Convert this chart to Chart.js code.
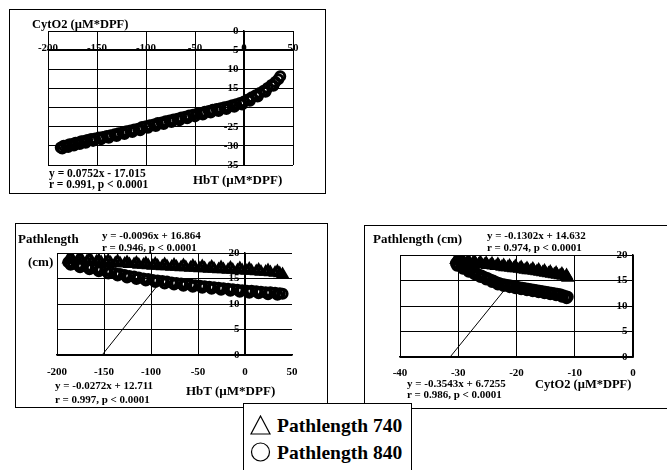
<!DOCTYPE html>
<html>
<head>
<meta charset="utf-8">
<script src="https://cdn.jsdelivr.net/npm/chart.js@4"></script>
<style>
  body { margin: 0; width: 667px; height: 470px; background: #fff; position: relative; overflow: hidden; }
  .box { position: absolute; border: 1px solid #000; box-sizing: border-box; }
  canvas { position: absolute; }
  .t { position: absolute; font-family: "Liberation Serif", "Times New Roman", serif; font-weight: bold;
       color: #000; line-height: 14px; white-space: nowrap; z-index: 5; }
  .legend { position: absolute; left: 243px; top: 403px; width: 169px; height: 80px; background: #fff;
            border: 1px solid #000; box-sizing: border-box; z-index: 10; }
  .legend .row { position: absolute; left: 6px; font-family: "Liberation Serif", "Times New Roman", serif;
                 font-weight: bold; font-size: 19.5px; line-height: 22px; white-space: nowrap; }
  .legend svg { vertical-align: -3px; margin-right: 6px; }
</style>
</head>
<body>

<div class="box" style="left:9px;top:9px;width:317px;height:185px"></div>
<div class="box" style="left:15px;top:223px;width:313px;height:185px"></div>
<div class="box" style="left:364px;top:225px;width:310px;height:184px"></div>

<canvas id="cA" width="316" height="184" style="left:9px;top:9px"></canvas>
<canvas id="cB" width="312" height="184" style="left:15px;top:223px"></canvas>
<canvas id="cC" width="303" height="183" style="left:364px;top:225px"></canvas>

<div class="t" style="left:32px;top:17px;font-size:12.5px">CytO2 (µM*DPF)</div>
<div class="t" style="left:49px;top:166px;font-size:11.5px">y = 0.0752x - 17.015</div>
<div class="t" style="left:49px;top:177px;font-size:11.5px">r = 0.991, p &lt; 0.0001</div>
<div class="t" style="left:193px;top:173px;font-size:13px">HbT (µM*DPF)</div>

<div class="t" style="left:18px;top:232px;font-size:13px">Pathlength</div>
<div class="t" style="left:28px;top:255px;font-size:13px">(cm)</div>
<div class="t" style="left:102px;top:228px;font-size:11px">y = -0.0096x + 16.864</div>
<div class="t" style="left:102px;top:240px;font-size:11px">r = 0.946, p &lt; 0.0001</div>
<div class="t" style="left:55px;top:378px;font-size:11px">y = -0.0272x + 12.711</div>
<div class="t" style="left:55px;top:392px;font-size:11px">r = 0.997, p &lt; 0.0001</div>
<div class="t" style="left:186px;top:384px;font-size:13px">HbT (µM*DPF)</div>

<div class="t" style="left:373px;top:232px;font-size:13px">Pathlength (cm)</div>
<div class="t" style="left:487px;top:228px;font-size:11px">y = -0.1302x + 14.632</div>
<div class="t" style="left:487px;top:240px;font-size:11px">r = 0.974, p &lt; 0.0001</div>
<div class="t" style="left:407px;top:376px;font-size:11px">y = -0.3543x + 6.7255</div>
<div class="t" style="left:407px;top:387px;font-size:11px">r = 0.986, p &lt; 0.0001</div>
<div class="t" style="left:535px;top:377px;font-size:12.5px">CytO2 (µM*DPF)</div>

<div class="legend">
  <div class="row" style="top:11px"><svg width="21" height="20"><polygon points="10.5,1 20,19 1,19" fill="#fff" stroke="#000" stroke-width="1.2"/></svg>Pathlength 740</div>
  <div class="row" style="top:38px"><svg width="21" height="20"><circle cx="10.5" cy="10" r="9" fill="#fff" stroke="#000" stroke-width="1.2"/></svg>Pathlength 840</div>
</div>

<script>
// top panel: CytO2 vs HbT (centre of the band, then its lower edge)
const hbtA = [-187, -184, -181, -178, -175, -172, -169, -166, -163, -160,
  -156, -152, -148, -144, -140, -136, -132, -128, -124, -120,
  -116, -112, -108, -104, -100, -96, -92, -88, -84, -80,
  -76, -72, -68, -64, -60, -56, -52, -48, -44, -40,
  -36, -32, -28, -24, -20, -16, -12, -8, -4, 0,
  4, 8, 12, 16, 20, 24, 28, 32, 35, 37];
const cytA = [-30.4, -30.0, -29.9, -29.6, -29.5, -29.2, -29.1, -28.8, -28.7, -28.5,
  -28.2, -28.1, -27.8, -27.7, -27.4, -27.2, -27.0, -26.7, -26.5, -26.2,
  -26.0, -25.7, -25.5, -25.1, -24.9, -24.6, -24.4, -24.0, -23.9, -23.6,
  -23.4, -23.1, -22.9, -22.6, -22.4, -22.1, -21.9, -21.6, -21.4, -21.1,
  -20.9, -20.6, -20.4, -20.2, -19.9, -19.7, -19.4, -19.1, -18.8, -18.4,
  -17.9, -17.3, -16.8, -16.2, -15.6, -14.9, -14.1, -13.3, -12.6, -11.8];
const hbtA2 = [-185.5, -179.5, -173.5, -167.5, -161.5, -154, -146, -138, -130, -122,
  -114, -106, -98, -90, -82, -74, -66, -58, -50, -42,
  -34, -26, -18, -10, -2, 6, 14, 22, 30];
const cytA2 = [-30.7, -30.3, -29.9, -29.5, -29.2, -28.7, -28.3, -27.9, -27.4, -26.9,
  -26.4, -25.9, -25.3, -24.8, -24.3, -23.8, -23.3, -22.8, -22.3, -21.8,
  -21.3, -20.9, -20.4, -19.8, -19.2, -18.2, -17.1, -15.9, -14.3];

// middle panel: pathlength vs HbT
const hbtB = [-188, -183, -178, -173, -168, -163, -158, -153, -148, -143,
  -138, -133, -128, -123, -118, -113, -108, -103, -98, -93,
  -88, -83, -78, -73, -68, -63, -58, -53, -48, -43,
  -38, -33, -28, -23, -18, -13, -8, -3, 2, 7,
  12, 17, 22, 27, 32, 37, 40];
const path740B = [18.7, 18.6, 18.6, 18.5, 18.4, 18.4, 18.3, 18.2, 18.2, 18.1,
  18.0, 18.0, 17.9, 17.8, 17.8, 17.7, 17.7, 17.6, 17.5, 17.5,
  17.4, 17.4, 17.3, 17.3, 17.2, 17.2, 17.1, 17.1, 17.0, 17.0,
  16.9, 16.9, 16.8, 16.8, 16.7, 16.7, 16.6, 16.6, 16.5, 16.5,
  16.4, 16.3, 16.3, 16.2, 16.1, 16.0, 15.8];
const path840B = [18.2, 17.9, 17.7, 17.5, 17.3, 17.1, 16.9, 16.7, 16.5, 16.3,
  16.1, 15.9, 15.7, 15.5, 15.4, 15.2, 15.0, 14.9, 14.7, 14.6,
  14.5, 14.4, 14.2, 14.1, 14.0, 13.9, 13.8, 13.7, 13.6, 13.5,
  13.4, 13.3, 13.2, 13.1, 13.0, 12.9, 12.8, 12.7, 12.6, 12.6,
  12.5, 12.4, 12.3, 12.3, 12.2, 12.1, 12.0];
const hbtB2 = [-185.5, -175.5, -165.5, -155.5, -145.5, -135.5, -125.5, -115.5, -105.5, -95.5,
  -85.5, -75.5, -65.5, -55.5, -45.5, -35.5, -25.5, -15.5, -5.5, 4.5,
  14.5, 24.5, 34.5];
const path740B2 = [19.0, 18.9, 18.8, 18.6, 18.5, 18.4, 18.2, 18.1, 18.0, 17.9,
  17.8, 17.7, 17.6, 17.5, 17.4, 17.3, 17.2, 17.1, 17.0, 16.9,
  16.7, 16.6, 16.4];
const path840B2 = [17.7, 17.2, 16.8, 16.4, 16.0, 15.6, 15.2, 14.9, 14.6, 14.3,
  14.0, 13.8, 13.6, 13.4, 13.2, 13.0, 12.8, 12.6, 12.4, 12.2,
  12.1, 11.9, 11.8];

// right panel: pathlength vs CytO2
const cytC = [-30.4, -30.0, -29.5, -29.0, -28.5, -28.0, -27.5, -27.0, -26.5, -26.0,
  -25.5, -25.0, -24.5, -24.0, -23.5, -23.0, -22.5, -22.0, -21.5, -21.0,
  -20.5, -20.0, -19.5, -19.0, -18.5, -18.0, -17.5, -17.0, -16.5, -16.0,
  -15.5, -15.0, -14.5, -14.0, -13.5, -13.0, -12.5, -12.0, -11.5, -11.2];
const path740C = [19.0, 18.8, 18.7, 18.6, 18.5, 18.4, 18.4, 18.3, 18.2, 18.2,
  18.1, 18.0, 18.0, 17.9, 17.8, 17.8, 17.7, 17.6, 17.6, 17.5,
  17.4, 17.4, 17.3, 17.2, 17.1, 17.0, 17.0, 16.9, 16.8, 16.7,
  16.6, 16.5, 16.4, 16.3, 16.2, 16.1, 16.0, 15.9, 15.7, 15.5];
const path840C = [18.4, 18.1, 17.8, 17.5, 17.3, 17.0, 16.7, 16.5, 16.2, 16.0,
  15.7, 15.5, 15.2, 15.0, 14.7, 14.5, 14.3, 14.2, 14.1, 14.0,
  13.9, 13.8, 13.7, 13.6, 13.5, 13.4, 13.3, 13.2, 13.1, 13.0,
  12.9, 12.8, 12.7, 12.6, 12.5, 12.4, 12.3, 12.1, 11.9, 11.8];
const cytC2 = [-30.2, -29.2, -28.2, -27.2, -26.2, -25.2, -24.2, -23.2, -22.2, -21.2,
  -20.2, -19.2, -18.2, -17.2, -16.2, -15.2, -14.2, -13.2, -12.2, -11.4];
const path740C2 = [19.3, 19.0, 18.8, 18.7, 18.6, 18.4, 18.3, 18.2, 18.0, 17.9,
  17.8, 17.6, 17.4, 17.3, 17.1, 16.9, 16.7, 16.5, 16.3, 16.0];
const path840C2 = [17.9, 17.3, 16.7, 16.2, 15.7, 15.2, 14.7, 14.2, 13.9, 13.7,
  13.5, 13.3, 13.1, 12.9, 12.7, 12.5, 12.3, 12.1, 11.8, 11.5];

// leader lines from the equations to the lower band
const leaderB = [[-152, 0], [-88, 14.8]];
const leaderC = [[-31.4, 0], [-21.6, 13.8]];

const fontFam = '"Liberation Serif", "Times New Roman", serif';
const tickFont = { family: fontFam, size: 11, weight: 'bold' };

// both readings of a band merged, left to right
function band(xs, ys, xs2, ys2) {
    const a = xs.map((x, i) => ({ x: x, y: ys[i] }));
    const b = xs2.map((x, i) => ({ x: x, y: ys2[i] }));
    return a.concat(b).sort((p, q) => p.x - q.x);
}

// open markers: no fill, so the overlapping outlines build up into a dark band
function circles(data) {
    return {
        data: data, order: 1,
        pointStyle: 'circle', pointRadius: 4.5,
        backgroundColor: 'rgba(0,0,0,0)', borderColor: '#000', borderWidth: 3
    };
}

function triangles(data) {
    return {
        data: data, order: 2,
        pointStyle: 'triangle', pointRadius: 5,
        backgroundColor: 'rgba(0,0,0,0)', borderColor: '#000', borderWidth: 2.8
    };
}

function leader(p) {
    return {
        data: p.map(a => ({ x: a[0], y: a[1] })), order: 0,
        showLine: true, borderColor: '#000', borderWidth: 1, pointRadius: 0
    };
}

function gridColor(hide) {
    return ctx => (ctx.tick && hide.includes(ctx.tick.value)) ? 'rgba(0,0,0,0)' : '#000';
}

function makeChart(id, datasets, xs, ys, padding) {
    return new Chart(document.getElementById(id), {
        type: 'scatter',
        data: { datasets: datasets },
        options: {
            responsive: false,
            animation: false,
            devicePixelRatio: 1,
            layout: { padding: padding },
            plugins: { legend: { display: false }, tooltip: { enabled: false } },
            scales: {
                x: {
                    type: 'linear', min: xs.min, max: xs.max,
                    position: { y: xs.at },
                    grid: { color: gridColor(xs.hide || []), lineWidth: 1, drawTicks: false },
                    border: { display: true, color: '#000', width: 1.5 },
                    ticks: { stepSize: xs.step, font: tickFont, color: '#000', padding: xs.pad, maxRotation: 0, autoSkip: false }
                },
                y: {
                    type: 'linear', min: ys.min, max: ys.max,
                    position: { x: ys.at },
                    grid: { color: '#000', lineWidth: 1, drawTicks: false },
                    border: { display: true, color: '#000', width: 1.5 },
                    // labels sit just left of the axis line
                    ticks: { stepSize: ys.step, font: tickFont, color: '#000', autoSkip: false,
                             callback: v => v + '  ' }
                }
            }
        }
    });
}

makeChart('cA', [circles(band(hbtA, cytA, hbtA2, cytA2))],
    { min: -200, max: 50, step: 50, at: -5, pad: -9 },
    { min: -35, max: 0, step: 5, at: 0 },
    { left: 39, top: 22, right: 32, bottom: 28 });

makeChart('cB', [circles(band(hbtB, path840B, hbtB2, path840B2)),
                 triangles(band(hbtB, path740B, hbtB2, path740B2)), leader(leaderB)],
    { min: -200, max: 50, step: 50, at: 0, pad: 11, hide: [50] },
    { min: 0, max: 20, step: 5, at: 0 },
    { left: 42, top: 30, right: 35, bottom: 52 });

makeChart('cC', [circles(band(cytC, path840C, cytC2, path840C2)),
                 triangles(band(cytC, path740C, cytC2, path740C2)), leader(leaderC)],
    { min: -40, max: 0, step: 10, at: 0, pad: 10 },
    { min: 0, max: 20, step: 5, at: 0 },
    { left: 36, top: 30, right: 34, bottom: 51 });
</script>
</body>
</html>
